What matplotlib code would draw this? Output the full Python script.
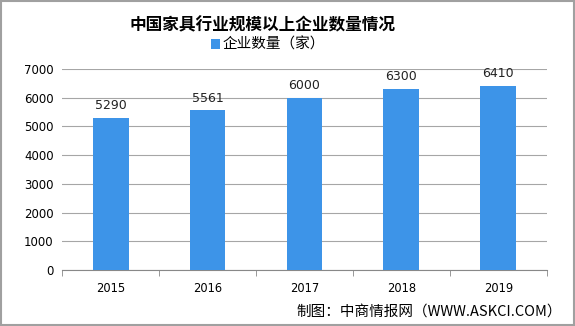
import matplotlib.pyplot as plt
from matplotlib.patches import Rectangle

plt.rcParams['font.family'] = ['Noto Sans CJK SC', 'DejaVu Sans']

years = ['2015', '2016', '2017', '2018', '2019']
counts = [5290, 5561, 6000, 6300, 6410]
yticks = [0, 1000, 2000, 3000, 4000, 5000, 6000, 7000]

fig = plt.figure(figsize=(5.75, 3.26), dpi=100)
ax = fig.add_axes([0.108, 0.172, 0.843, 0.616])

x = range(len(years))
ax.bar(x, counts, width=0.37, color='#3D94E8', label='企业数量（家）', zorder=3)
for xi, v in zip(x, counts):
    ax.text(xi, v + 200, str(v), ha='center', va='bottom', fontsize=9,
            family='DejaVu Sans', color='#222222')

ax.set_xlim(-0.5, len(years) - 0.5)
ax.set_ylim(0, 7000)
ax.set_yticks(yticks)
ax.set_yticklabels([str(t) for t in yticks], fontsize=8.5, family='DejaVu Sans')
ax.set_xticks(list(x))
ax.set_xticklabels(years, fontsize=8.3, family='DejaVu Sans')
ax.set_xticks([i - 0.5 for i in range(len(years) + 1)], minor=True)
ax.tick_params(axis='x', which='major', length=0, pad=9)
ax.tick_params(axis='x', which='minor', length=4, color='#888888')
ax.tick_params(axis='y', length=0, pad=6)
ax.yaxis.grid(True, color='#A6A6A6', linewidth=0.8, zorder=0)
for s in ['top', 'right', 'left']:
    ax.spines[s].set_visible(False)
ax.spines['bottom'].set_color('#888888')

fig.text(0.456, 0.923, '中国家具行业规模以上企业数量情况', ha='center', va='center',
         fontsize=12, fontweight='bold')
fig.legend(loc='center', bbox_to_anchor=(0.466, 0.862), frameon=False, fontsize=10.5,
           handlelength=0.6, handleheight=0.6, handletextpad=0.2)
fig.text(0.515, 0.043, '制图：中商情报网（WWW.ASKCI.COM）', ha='left', va='center', fontsize=10.5)

fig.patches.append(Rectangle((0.001, 0.002), 0.997, 0.995, transform=fig.transFigure,
                             fill=False, edgecolor='#A0A0A0', linewidth=1.5))

fig.savefig('out.png', dpi=100)
